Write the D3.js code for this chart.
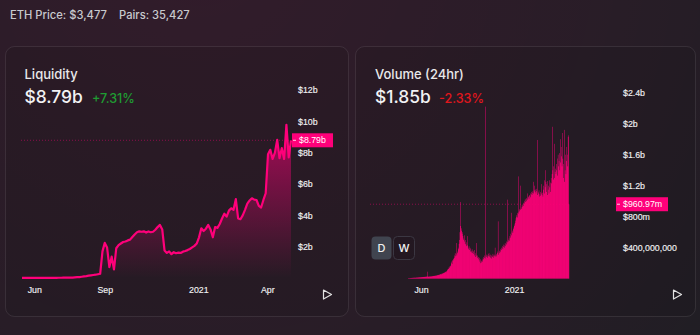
<!DOCTYPE html>
<html><head><meta charset="utf-8">
<script src="https://cdn.jsdelivr.net/npm/d3@7"></script>
<style>html,body{margin:0;padding:0;background:#1e1e24;overflow:hidden}svg{display:block}</style>
</head><body><svg id="c" width="700" height="335"></svg>
<script>
// ---------------- DATA ----------------
const headerItems = ["ETH Price: $3,477", "Pairs: 35,427"];

// Liquidity (TVL, $b) sampled every 3 days starting 2020-05-16
const liqStart = "2020-05-16";
const liqStepDays = 3;
const liqValues = [
 0.005,0.005,0.006,0.006,0.007,0.007,0.008,0.008,0.009,0.009,
 0.01,0.01,0.011,0.012,0.013,0.014,0.015,0.016,0.018,0.019,
 0.02,0.025,0.03,0.04,0.05,0.06,0.08,0.1,0.12,0.15,
 0.17,0.19,0.21,0.24,0.27,1.7,2.24,1.95,0.7,1.36,
 0.55,1.9,2.1,2.2,2.3,2.33,2.4,2.45,2.62,2.78,
 2.92,2.98,2.95,2.98,2.9,2.97,2.92,2.95,3.08,3.25,
 3.39,3.1,1.75,1.6,1.7,1.52,1.65,1.58,1.62,1.6,
 1.68,1.72,1.78,1.85,1.95,2.05,2.2,2.6,3.17,3.0,
 3.15,3.39,3.1,2.6,3.25,3.2,3.45,3.8,4.1,3.92,
 4.3,4.45,4.35,5.03,3.8,3.75,4.0,4.35,4.75,4.95,
 5.09,5.0,4.98,4.6,4.5,4.98,5.41,7.9,8.18,7.6,
 8.0,8.82,7.65,8.29,7.6,9.78,7.7,8.79
];
const liqYTicks = [2,4,6,8,10,12];
const liqYLabels = ["$2b","$4b","$6b","$8b","$10b","$12b"];
const liqXTicks = ["2020-06-01","2020-09-01","2021-01-01","2021-04-01"];
const liqXLabels = ["Jun","Sep","2021","Apr"];
const liqCurrent = 8.79, liqCurrentLabel = "$8.79b";
const liqTitle = "Liquidity", liqValueText = "$8.79b", liqChange = "+7.31%";

// Volume (daily, $b) starting 2020-05-02
const volStart = "2020-05-02";
const volValues = [
 .005,.006,.007,.006,.008,.009,.008,.01,.009,.011,
 .01,.012,.011,.013,.012,.014,.013,.012,.015,.014,
 .016,.015,.017,.016,.018,.02,.017,.019,.018,.02,
 .019,.021,.02,.022,.021,.023,.022,.024,.023,.025,
 .024,.026,.025,.03,.09,.028,.026,.027,.029,.028,
 .03,.029,.031,.03,.032,.031,.033,.035,.034,.036,
 .035,.038,.04,.037,.042,.04,.045,.043,.048,.046,
 .05,.048,.055,.052,.058,.06,.056,.065,.062,.07,
 .068,.075,.072,.08,.078,.085,.09,.082,.095,.1,
 .12,.11,.13,.125,.15,.14,.16,.17,.16,.2,
 .22,.19,.24,.23,.26,.25,.3,.27,.33,.29,
 .32,.46,.3,.35,.33,.4,.38,.45,.5,.6,
 .99,.68,.62,.65,.58,.6,.55,.52,.5,.56,
 .48,.45,.5,.44,.42,.47,.55,.43,.4,.38,
 .42,.37,.4,.35,.39,.36,.34,.38,.33,.36,
 .35,.32,.37,.3,.33,.28,.31,.46,.29,.27,
 .3,.26,.28,.24,.27,.22,.25,.2,.23,.21,
 .24,.22,.26,.25,.28,.27,.3,.26,2.22,.29,
 .31,.28,.3,.27,.32,.29,.33,.3,.28,.31,
 .27,.3,.26,.29,.28,.32,.3,.27,.31,.29,
 .4,.3,.28,.32,.3,.33,.35,.74,.31,.34,
 .36,.33,.38,.35,.4,.37,.39,.42,.38,.41,
 .44,.4,.43,.46,.42,.45,.48,.44,.47,1.02,
 .48,.5,.52,.49,.55,.53,.58,.85,.56,.6,
 .62,.59,.64,.66,.7,.68,.72,.75,.78,.8,
 .82,.79,.85,.84,1.32,.86,.88,.9,1.2,.89,
 .92,.9,.95,.93,.96,.98,.94,1.0,.97,1.02,
 .99,1.03,1.0,1.04,1.1,1.02,1.05,1.06,1.03,1.08,
 1.07,1.1,1.05,1.09,1.12,1.08,1.11,1.13,1.25,1.1,
 1.2,1.14,1.12,1.15,1.1,1.13,1.16,1.79,1.08,1.12,
 1.1,1.14,1.06,1.09,1.12,1.07,1.1,1.22,1.08,1.11,
 1.06,1.15,1.2,1.27,1.1,1.18,1.4,1.25,1.12,1.22,
 1.08,1.26,1.15,1.2,1.1,1.27,1.18,1.12,1.24,1.3,
 1.23,1.35,1.96,1.4,1.28,1.45,1.3,1.74,1.38,1.42,
 1.35,1.48,1.4,1.55,1.33,1.6,1.45,1.52,1.62,1.4,
 1.8,1.5,1.7,1.58,1.45,1.88,1.55,1.3,1.48,1.92,
 1.25,1.4,1.6,1.35,1.52,1.7,1.45,1.6,1.83,1.85,
 .96
];
const volYTicks = [0.4,0.8,1.2,1.6,2.0,2.4];
const volYLabels = ["$400,000,000","$800m","$1.2b","$1.6b","$2b","$2.4b"];
const volXTicks = ["2020-06-01","2021-01-01"];
const volXLabels = ["Jun","2021"];
const volCurrent = 0.96097, volCurrentLabel = "$960.97m";
const volTitle = "Volume (24hr)", volValueText = "$1.85b", volChange = "-2.33%";
const buttons = ["D","W"];

// ---------------- DRAW ----------------
const W = 700, H = 335;
const PINK = "#ff007a";
const parse = d3.timeParse("%Y-%m-%d");
const TXT = "Inter, 'Noto Sans', sans-serif";
const AX = "'Liberation Sans', Arial, sans-serif";
const svg = d3.select("#c");
const defs = svg.append("defs");

const bg = defs.append("radialGradient").attr("id","bgGrad").attr("gradientUnits","userSpaceOnUse")
  .attr("cx",200).attr("cy",-60).attr("r",720);
bg.append("stop").attr("offset",0).attr("stop-color",PINK).attr("stop-opacity",0.09);
bg.append("stop").attr("offset",0.55).attr("stop-color",PINK).attr("stop-opacity",0.05);
bg.append("stop").attr("offset",1).attr("stop-color",PINK).attr("stop-opacity",0);
svg.append("rect").attr("width",W).attr("height",H).attr("fill","#1e1e23");
svg.append("rect").attr("width",W).attr("height",H).attr("fill","url(#bgGrad)");

const areaGrad = defs.append("linearGradient").attr("id","areaGrad").attr("x1",0).attr("y1",0).attr("x2",0).attr("y2",1);
areaGrad.append("stop").attr("offset",0).attr("stop-color",PINK).attr("stop-opacity",0.58);
areaGrad.append("stop").attr("offset",1).attr("stop-color",PINK).attr("stop-opacity",0);

const filt = defs.append("filter").attr("id","solid").attr("filterUnits","userSpaceOnUse")
  .attr("x",395).attr("y",80).attr("width",190).attr("height",210)
  .attr("color-interpolation-filters","sRGB");
filt.append("feComponentTransfer").append("feFuncA").attr("type","table").attr("tableValues","0 0.25 0.5 1 1");

// header
const hdr = svg.append("g").attr("font-family",TXT).attr("font-size",11.2).attr("font-weight",500).attr("fill","#c8c9ce");
hdr.append("text").attr("x",10).attr("y",19).text(headerItems[0]);
hdr.append("text").attr("x",119).attr("y",19).text(headerItems[1]);

// panels
[[5.5,343],[355.5,340]].forEach(([x,w])=>{
  svg.append("rect").attr("x",x).attr("y",46.5).attr("width",w).attr("height",270).attr("rx",9)
    .attr("fill","rgba(10,8,12,0.10)").attr("stroke","rgba(255,255,255,0.09)").attr("stroke-width",1);
});

function titles(x, title, val, chg, chgColor, chgX){
  const g = svg.append("g").attr("font-family",TXT);
  g.append("text").attr("x",x).attr("y",79).attr("font-size",13).attr("font-weight",500).attr("fill","#e8e8ea").text(title);
  g.append("text").attr("x",x).attr("y",102.5).attr("font-size",17.4).attr("font-weight",500).attr("fill","#f2f2f4").text(val);
  g.append("text").attr("x",chgX).attr("y",102.5).attr("font-size",12.6).attr("font-weight",500).attr("fill",chgColor).text(chg);
}
titles(24.5, liqTitle, liqValueText, liqChange, "#1f9c32", 92);
titles(375, volTitle, volValueText, volChange, "#e0161c", 439);

function play(x){
  svg.append("path").attr("d",`M${x},290 L${x+8},294.5 L${x},299 Z`).attr("fill","none")
    .attr("stroke","#e2e2e2").attr("stroke-width",1.2).attr("stroke-linejoin","round");
}
play(323.5); play(673.5);

// ---- Liquidity chart ----
const liqData = liqValues.map((v,i)=>({date:d3.timeDay.offset(parse(liqStart), i*liqStepDays), value:v}));
const lx = d3.scaleTime().domain(d3.extent(liqData,d=>d.date)).range([22,291]);
const ly = d3.scaleLinear().domain([0,12]).range([278,90]);

svg.append("path").datum(liqData).attr("fill","url(#areaGrad)")
  .attr("d", d3.area().x(d=>lx(d.date)).y0(ly(0)).y1(d=>ly(d.value)));
svg.append("path").datum(liqData).attr("fill","none").attr("stroke",PINK).attr("stroke-width",2.2)
  .attr("stroke-linejoin","round")
  .attr("d", d3.line().x(d=>lx(d.date)).y(d=>ly(d.value)));

const lyAxis = svg.append("g").attr("transform","translate(298,0)")
  .call(d3.axisRight(ly).tickValues(liqYTicks).tickSize(0).tickPadding(0).tickFormat((d,i)=>liqYLabels[i]));
const lxAxis = svg.append("g").attr("transform","translate(0,287)")
  .call(d3.axisBottom(lx).tickValues(liqXTicks.map(parse)).tickSize(0).tickPadding(0).tickFormat((d,i)=>liqXLabels[i]));

// current price line + label
svg.append("line").attr("x1",21).attr("x2",291).attr("y1",ly(liqCurrent)).attr("y2",ly(liqCurrent))
  .attr("stroke",PINK).attr("stroke-opacity",0.45).attr("stroke-width",1).attr("stroke-dasharray","1,2");
svg.append("rect").attr("x",292).attr("y",ly(liqCurrent)-7).attr("width",41).attr("height",14).attr("fill",PINK);
svg.append("line").attr("x1",293).attr("x2",296).attr("y1",ly(liqCurrent)).attr("y2",ly(liqCurrent)).attr("stroke","#fff").attr("stroke-opacity",0.8);
svg.append("text").attr("x",299).attr("y",ly(liqCurrent)).attr("dy","0.35em").attr("font-family",AX).attr("font-size",8.8)
  .attr("fill","#fff").text(liqCurrentLabel);

// ---- Volume chart ----
const volData = volValues.map((v,i)=>({date:d3.timeDay.offset(parse(volStart), i), value:v}));
const vEnd = d3.timeDay.offset(volData[volData.length-1].date, 1);
const vx = d3.scaleTime().domain([volData[0].date, vEnd]).range([408,569.2]);
const vy = d3.scaleLinear().domain([0,2.4]).range([278.7,92.7]);

svg.append("g").attr("filter","url(#solid)").selectAll("rect").data(volData).join("rect")
  .attr("x",d=>vx(d.date))
  .attr("width",d=>vx(d3.timeDay.offset(d.date,1))-vx(d.date))
  .attr("y",d=>vy(d.value))
  .attr("height",d=>vy(0)-vy(d.value))
  .attr("fill",PINK);

const vyAxis = svg.append("g").attr("transform","translate(623,0)")
  .call(d3.axisRight(vy).tickValues(volYTicks).tickSize(0).tickPadding(0).tickFormat((d,i)=>volYLabels[i]));
const vxAxis = svg.append("g").attr("transform","translate(0,287)")
  .call(d3.axisBottom(vx).tickValues(volXTicks.map(parse)).tickSize(0).tickPadding(0).tickFormat((d,i)=>volXLabels[i]));

svg.append("line").attr("x1",370).attr("x2",569).attr("y1",vy(volCurrent)).attr("y2",vy(volCurrent))
  .attr("stroke",PINK).attr("stroke-opacity",0.45).attr("stroke-width",1).attr("stroke-dasharray","1,2");
svg.append("rect").attr("x",616).attr("y",vy(volCurrent)-7).attr("width",52).attr("height",14).attr("fill",PINK);
svg.append("line").attr("x1",617).attr("x2",620).attr("y1",vy(volCurrent)).attr("y2",vy(volCurrent)).attr("stroke","#fff").attr("stroke-opacity",0.8);
svg.append("text").attr("x",623).attr("y",vy(volCurrent)).attr("dy","0.35em").attr("font-family",AX).attr("font-size",8.8)
  .attr("fill","#fff").text(volCurrentLabel);

// axis styling
[lyAxis,lxAxis,vyAxis,vxAxis].forEach(a=>{
  a.select(".domain").remove();
  a.selectAll("text").attr("font-family",AX).attr("font-size",8.8).attr("fill","#f0f0f2")
    .attr("stroke","#f0f0f2").attr("stroke-width",0.15);
});
[lxAxis,vxAxis].forEach(a=>a.selectAll("text").attr("dy","0.71em"));

// D / W buttons
svg.append("rect").attr("x",371.5).attr("y",236.5).attr("width",20).attr("height",23).attr("rx",4).attr("fill","#40444f");
svg.append("rect").attr("x",393.5).attr("y",236.5).attr("width",21).attr("height",23).attr("rx",4)
  .attr("fill","rgba(0,0,0,0.08)").attr("stroke","#3b3742");
svg.append("text").attr("x",381.5).attr("y",248).attr("dy","0.35em").attr("text-anchor","middle")
  .attr("font-family",TXT).attr("font-size",11).attr("font-weight",500).attr("fill","#f0f0f0").text(buttons[0]);
svg.append("text").attr("x",404).attr("y",248).attr("dy","0.35em").attr("text-anchor","middle")
  .attr("font-family",TXT).attr("font-size",11).attr("font-weight",500).attr("fill","#f0f0f0").text(buttons[1]);
</script></body></html>
